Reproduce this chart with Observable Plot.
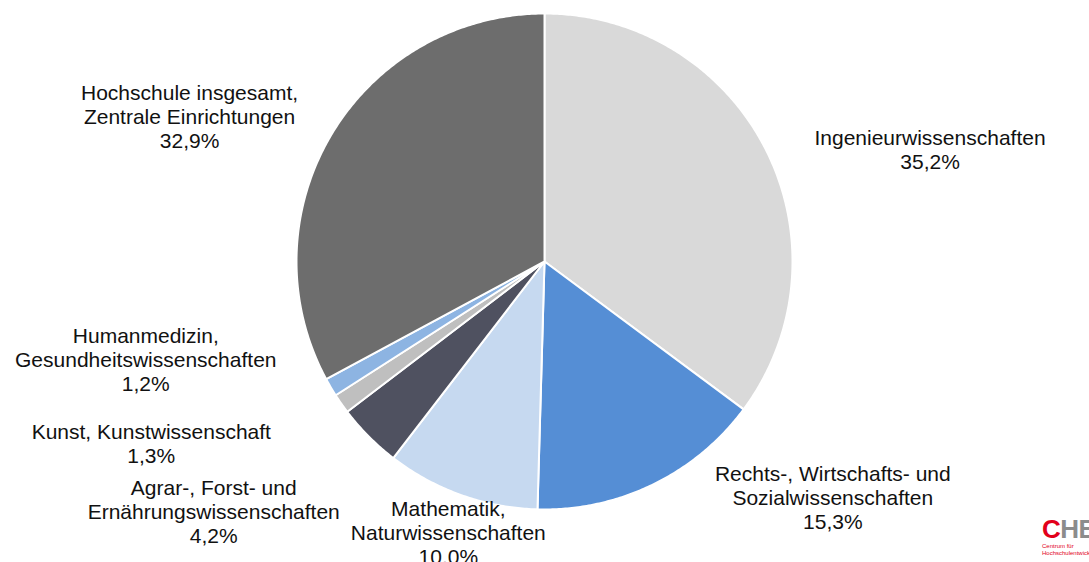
<!DOCTYPE html>
<html>
<head>
<meta charset="utf-8">
<script src="https://cdn.jsdelivr.net/npm/d3@7"></script>
<script src="https://cdn.jsdelivr.net/npm/@observablehq/plot@0.6"></script>
<style>
  html, body { margin: 0; padding: 0; background: #fff; }
  #wrap { position: relative; width: 1089px; height: 562px; overflow: hidden; font-family: "Liberation Sans", Arial, sans-serif; }
  #logo { position: absolute; left: 1042px; top: 516px; white-space: nowrap; }
  #logo .big { font-size: 26px; line-height: 27px; font-weight: bold; letter-spacing: -0.5px; }
  #logo .c { color: #e2001a; }
  #logo .he { color: #8c8c8c; }
  #logo .small { color: #e2001a; font-size: 6px; line-height: 7px; }
</style>
</head>
<body>
<div id="wrap"><div id="logo"><div class="big"><span class="c">C</span><span class="he">HE</span></div><div class="small">Centrum für<br>Hochschulentwicklung</div></div></div>
<script>
// ---- data ----
const categories = [
  "Ingenieurwissenschaften",
  "Rechts-, Wirtschafts- und\nSozialwissenschaften",
  "Mathematik,\nNaturwissenschaften",
  "Agrar-, Forst- und\nErnährungswissenschaften",
  "Kunst, Kunstwissenschaft",
  "Humanmedizin,\nGesundheitswissenschaften",
  "Hochschule insgesamt,\nZentrale Einrichtungen"
];
const values = [35.2, 15.3, 10.0, 4.2, 1.3, 1.2, 32.9];
const valueLabels = ["35,2%", "15,3%", "10.0%", "4,2%", "1,3%", "1,2%", "32,9%"];

// ---- styles / layout ----
const colors = ["#d9d9d9", "#558ed5", "#c6d9f0", "#4f5160", "#bfbfbf", "#8db4e2", "#6d6d6d"];
const W = 1089, H = 562, CX = 544, CY = 261, R = 248;
// label offsets (pixels) from the slice's outer edge at its mid-angle
const labelOffsets = [[164, -1], [180, 13], [-13, 37], [-155, 75], [-190, 40], [-185, -28], [-142, -18]];

const arcs = d3.pie().sort(null).value(d => d)(values);

const slices = arcs.map((a, i) => {
  const n = Math.max(2, Math.ceil((a.endAngle - a.startAngle) / (Math.PI / 360)));
  const pts = [{x: 0, y: 0}];
  for (let k = 0; k <= n; k++) {
    const t = a.startAngle + (a.endAngle - a.startAngle) * k / n;
    pts.push({x: Math.sin(t), y: Math.cos(t)});
  }
  pts.push({x: 0, y: 0});
  return pts;
});

const labels = arcs.map((a, i) => {
  const m = (a.startAngle + a.endAngle) / 2;
  return {
    x: Math.sin(m) + labelOffsets[i][0] / R,
    y: Math.cos(m) - labelOffsets[i][1] / R,
    text: categories[i] + "\n" + valueLabels[i]
  };
});

const chart = Plot.plot({
  width: W,
  height: H,
  margin: 0,
  x: {domain: [-CX / R, (W - CX) / R], axis: null},
  y: {domain: [-(H - CY) / R, CY / R], axis: null},
  style: {background: "transparent", fontFamily: "'Liberation Sans', Arial, sans-serif"},
  marks: [
    ...slices.map((pts, i) => Plot.line(pts, {
      x: "x", y: "y", fill: colors[i], stroke: "#fff", strokeWidth: 2, strokeLinejoin: "round"
    })),
    Plot.text(labels, {
      x: "x", y: "y", text: "text", fontSize: 21, lineHeight: 1.143,
      textAnchor: "middle", lineAnchor: "middle", fill: "#111"
    })
  ]
});
chart.style.position = "absolute";
chart.style.left = "0";
chart.style.top = "0";
document.getElementById("wrap").prepend(chart);
</script>
</body>
</html>
